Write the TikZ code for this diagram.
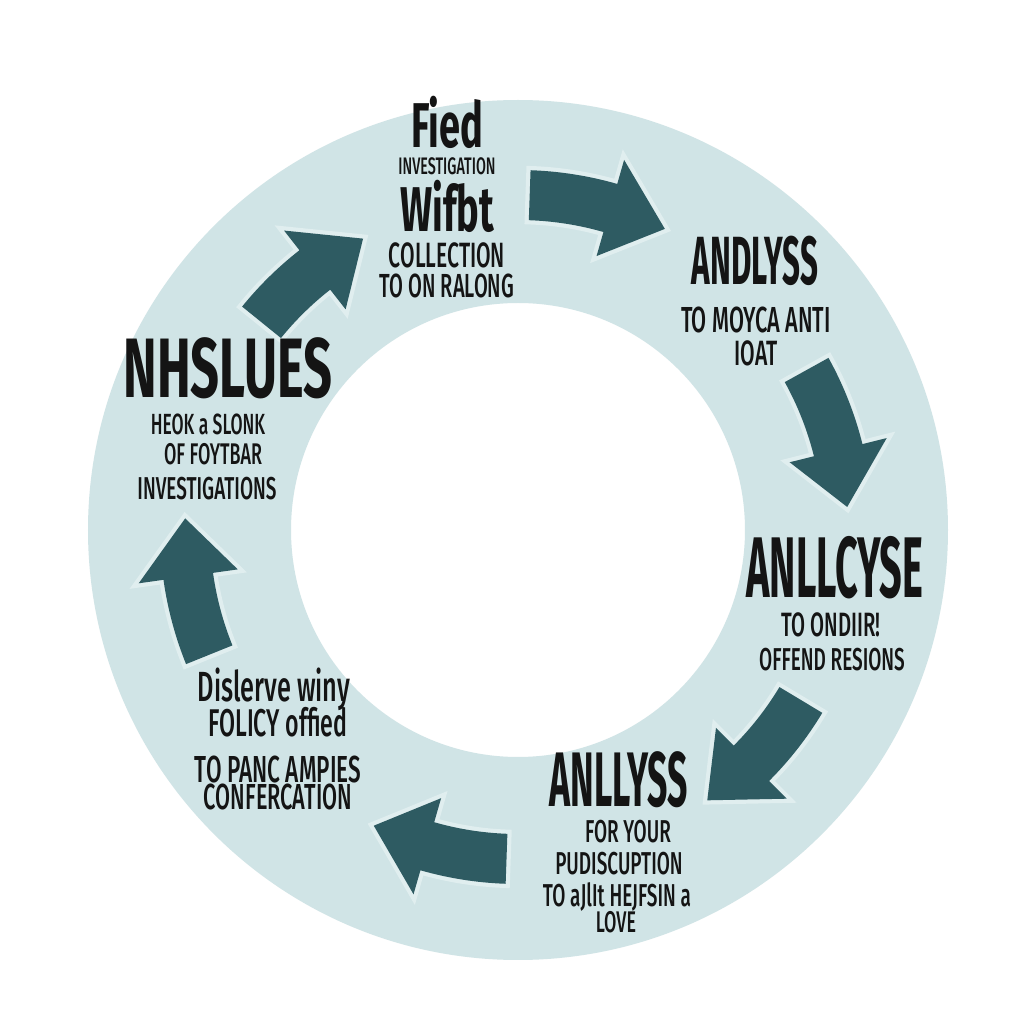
\documentclass[tikz,border=0pt]{standalone}
\usepackage{fontspec}
\newfontfamily\handfont[FakeStretch=0.6]{Fira Sans Medium}
\newfontfamily\titlefont[FakeStretch=0.6]{Fira Sans}
\newfontfamily\tallfont[FakeStretch=0.46]{Fira Sans}
\definecolor{cyRing}{RGB}{208,228,230}
\definecolor{cyGlow}{RGB}{224,238,239}
\definecolor{cyArrow}{RGB}{46,91,98}
\definecolor{cyInk}{RGB}{20,20,20}

\begin{document}
\begin{tikzpicture}[
    subline/.style={anchor=base, inner sep=0pt, text=cyInk, font={\handfont\fontsize{#1}{#1}\selectfont}},
    headline/.style={anchor=base, inner sep=0pt, text=cyInk, font={\titlefont\bfseries\fontsize{#1}{#1}\selectfont}},
    tallline/.style={anchor=base, inner sep=0pt, text=cyInk, font={\tallfont\bfseries\fontsize{#1}{#1}\selectfont}},
    cyc/.style={fill=cyArrow, line join=round, preaction={draw=cyGlow, line width=2.4pt}}
]
  \fill[white] (0,0) rectangle (10.24,10.24);
  \useasboundingbox (0,0) rectangle (10.24,10.24);
  \coordinate (c) at (5.18,4.94);

  % ring
  \fill[cyRing, even odd rule] (c) circle[radius=4.30] (c) circle[radius=2.27];

  % cycle arrows: tail angle / tip angle / radius
  \foreach \a/\b/\r in {141/118/3.30, 88/64/3.35, 29/4/3.30, -31/-55/3.30, -92/-116/3.29, 202/178/3.33} {
    \pgfmathsetmacro\m{\b+10}
    \pgfmathsetmacro\ri{\r-0.25}
    \pgfmathsetmacro\ro{\r+0.25}
    \pgfmathsetmacro\hi{\r-0.5}
    \pgfmathsetmacro\ho{\r+0.5}
    \path[cyc] ([shift={(\a:\ri)}]c) arc[start angle=\a, end angle=\m, radius=\ri]
      -- ([shift={(\m:\hi)}]c) -- ([shift={(\b:\r)}]c) -- ([shift={(\m:\ho)}]c)
      -- ([shift={(\m:\ro)}]c) arc[start angle=\m, end angle=\a, radius=\ro] -- cycle;
  }

  % top
  \node[headline=18pt] (fieldT) at (4.47,8.76) {Fied};
  \node[subline=6.8pt] (fieldA) at (4.47,8.49) {INVESTIGATION};
  \node[headline=18pt] (fieldB) at (4.47,7.92) {Wifbt};
  \node[subline=10pt] (fieldC) at (4.47,7.56) {COLLECTION};
  \node[subline=9.5pt] (fieldD) at (4.47,7.26) {TO ON RALONG};

  % upper right
  \node[tallline=19.4pt] (anaT) at (7.55,7.39) {ANDLYSS};
  \node[subline=10.3pt] (anaA) at (7.56,6.91) {TO MOYCA ANTI};
  \node[subline=10pt] (anaB) at (7.56,6.58) {IOAT};

  % lower right
  \node[tallline=24.5pt] (anlT) at (8.35,4.26) {ANLLCYSE};
  \node[subline=9.6pt] (anlA) at (8.31,3.87) {TO ONDIIR!};
  \node[subline=9pt] (anlB) at (8.32,3.54) {OFFEND RESIONS};

  % bottom
  \node[tallline=22pt] (botT) at (6.19,2.17) {ANLLYSS};
  \node[subline=9pt] (botA) at (6.28,1.81) {FOR YOUR};
  \node[subline=9pt] (botB) at (6.19,1.50) {PUDISCUPTION};
  \node[subline=9pt] (botC) at (6.17,1.18) {TO aJlIt HEJFSIN a};
  \node[subline=8.5pt] (botD) at (6.16,0.91) {LOVE};

  % lower left
  \node[subline=12pt] (polT) at (2.74,3.22) {Dislerve winy};
  \node[subline=11pt] (polA) at (2.78,2.87) {FOLICY offied};
  \node[subline=10.7pt] (polB) at (2.78,2.41) {TO PANC AMPIES};
  \node[subline=10.3pt] (polC) at (2.78,2.14) {CONFERCATION};

  % left
  \node[headline=24pt] (issT) at (2.28,6.26) {NHSLUES};
  \node[subline=8.3pt] (issA) at (2.08,5.89) {HEOK a SLONK};
  \node[subline=8.5pt] (issB) at (2.13,5.59) {OF FOYTBAR};
  \node[subline=9pt] (issC) at (2.07,5.24) {INVESTIGATIONS};
\end{tikzpicture}
\end{document}
